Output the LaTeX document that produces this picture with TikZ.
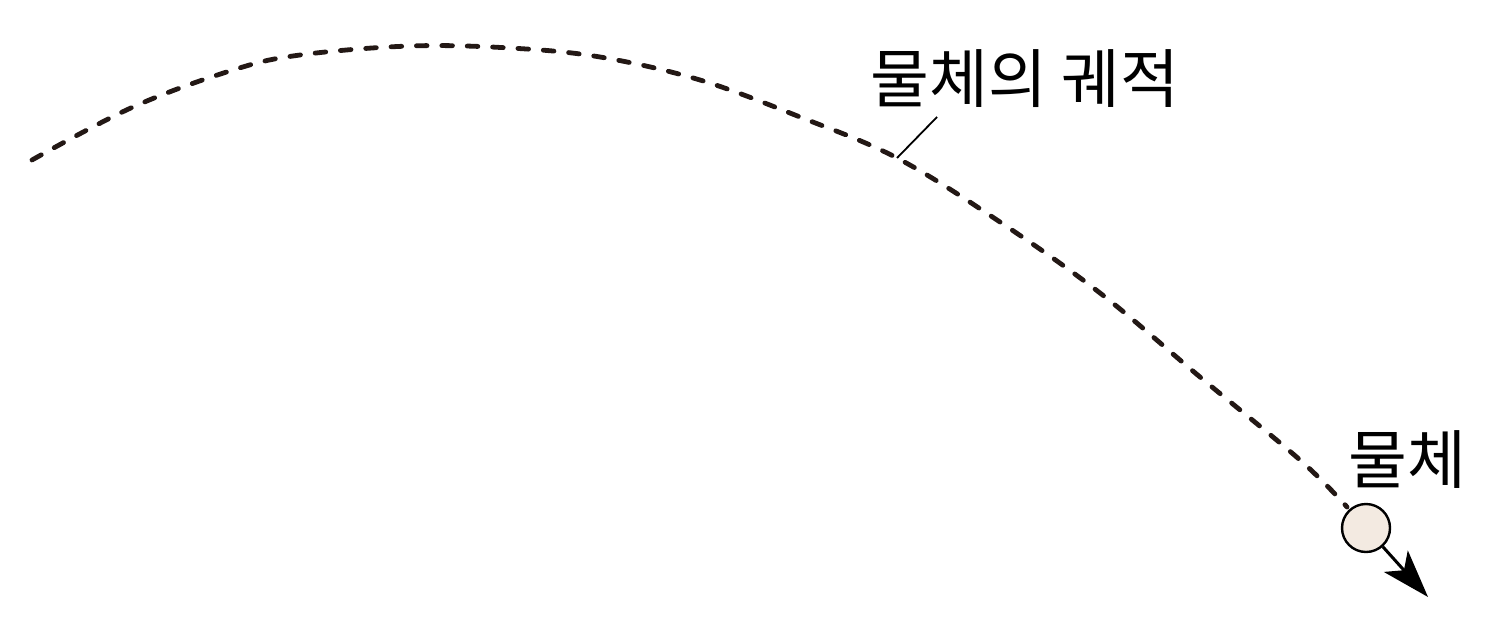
\documentclass[tikz,border=0pt]{standalone}
\usepackage{fontspec}
\newfontfamily\kr{Noto Sans CJK KR}
\usetikzlibrary{arrows.meta}
\definecolor{traj}{HTML}{231815}
\definecolor{ballfill}{HTML}{F3EAE1}
\tikzset{
  trajline/.style={draw=traj, line width=2.4pt, line cap=round, dash pattern=on 5.3pt off 7.4pt},
  ballnode/.style={circle, draw=black, line width=1.2pt, fill=ballfill, minimum size=24pt, inner sep=0pt},
  lbl/.style={font=\kr\fontsize{32pt}{34pt}\selectfont, inner sep=0pt, text=black},
  leader/.style={draw=black, line width=0.9pt},
  velarrow/.style={draw=black, line width=1.5pt, -{Stealth[length=24pt, width=16pt, inset=6pt]}}
}
\begin{document}
\begin{tikzpicture}[x=0.5pt, y=-0.5pt]
\useasboundingbox (0,0) rectangle (1508,637);
\node[ballnode] (ball) at (1366,528) {};
\draw[trajline] plot[smooth, tension=0.6] coordinates {(32,160) (133,107) (233,70) (300,55) (410,46) (510,48) (600,57) (700,80) (800,117) (897,158) (1000,222) (1100,293) (1200,377) (1300,460) (1347,507)};
\coordinate (onpath) at (897,158);
\coordinate (leadtop) at (937,117);
\node[lbl] (pathlabel) at (1025,79) {물체의 궤적};
\node[lbl] (balllabel) at (1407,460) {물체};
\draw[leader] (onpath) -- (leadtop);
\coordinate (tip) at (1428,597);
\draw[velarrow] (ball) -- (tip);
\end{tikzpicture}
\end{document}
